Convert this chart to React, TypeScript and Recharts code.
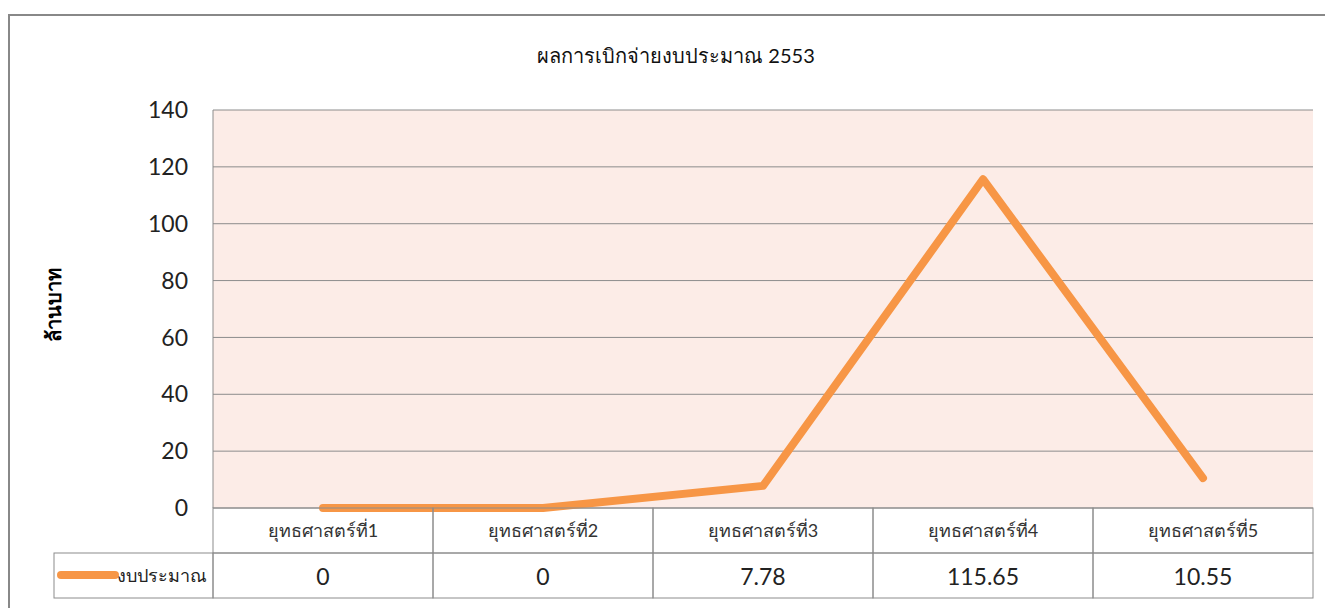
import React from "react";
import { LineChart, Line, XAxis, YAxis, CartesianGrid } from "recharts";

const categories = ["ยุทธศาสตร์ที่1", "ยุทธศาสตร์ที่2", "ยุทธศาสตร์ที่3", "ยุทธศาสตร์ที่4", "ยุทธศาสตร์ที่5"];
const budget = [0, 0, 7.78, 115.65, 10.55];
const yTicks = [0, 20, 40, 60, 80, 100, 120, 140];
const seriesName = "งบประมาณ";

const data = categories.map((name, i) => ({ name, value: budget[i] }));

const FONT = "Lato, 'Noto Sans', sans-serif";
const ORANGE = "#F79646";
const BORDER = "#8c8c8c";
const ROW = 45;
const HALF = 110;

// x-axis tick draws one column of the data table
const TableTick = ({ x, y, index }: any) => {
  return (
    <g>
      <rect x={x - HALF} y={y} width={HALF * 2} height={ROW} fill="none" stroke={BORDER} />
      <rect x={x - HALF} y={y + ROW} width={HALF * 2} height={ROW} fill="none" stroke={BORDER} />
      <text x={x} y={y + 22} textAnchor="middle" dominantBaseline="central" fontSize={18} fill="#333" fontFamily={FONT}>
        {categories[index]}
      </text>
      <text x={x} y={y + ROW + 23} textAnchor="middle" dominantBaseline="central" fontSize={23} fill="#222" fontFamily={FONT}>
        {String(budget[index])}
      </text>
      {index === 0 && (
        <g>
          <rect x={x - HALF - 159} y={y + ROW} width={159} height={ROW} fill="none" stroke={BORDER} />
          <line x1={x - HALF - 152} x2={x - HALF - 98} y1={y + ROW + 22} y2={y + ROW + 22} stroke={ORANGE} strokeWidth={8} strokeLinecap="round" />
          <text x={x - HALF - 96} y={y + ROW + 22} dominantBaseline="central" fontSize={18} fill="#222" fontFamily={FONT}>
            {seriesName}
          </text>
        </g>
      )}
    </g>
  );
};

const YTitle = ({ viewBox }: any) => {
  const cx = viewBox.x + 45;
  const cy = viewBox.y + viewBox.height / 2 - 4;
  return (
    <text x={cx} y={cy} transform={`rotate(-90 ${cx} ${cy})`} textAnchor="middle" dominantBaseline="central" fontSize={20} fontWeight="bold" fill="#000" fontFamily={FONT}>
      ล้านบาท
    </text>
  );
};

export default function App() {
  return (
    <div style={{ position: "relative", width: 1325, height: 600, fontFamily: FONT }}>
      <div style={{ position: "absolute", left: 0, top: 6, width: 1340, height: 600, borderLeft: "2px solid #888", borderTop: "2px solid #888" }} />
      <div style={{ position: "absolute", left: 0, top: 32, width: 1336, textAlign: "center", fontSize: 20, color: "#111" }}>
        ผลการเบิกจ่ายงบประมาณ 2553
      </div>
      <div style={{ position: "absolute", left: 0, top: 0 }}>
        <LineChart width={1325} height={600} data={data} margin={{ top: 102, right: 20, bottom: 10, left: 0 }}>
          <CartesianGrid vertical={false} stroke={BORDER} fill="#FCECE7" fillOpacity={1} />
          <XAxis
            dataKey="name"
            padding={{ left: HALF, right: HALF }}
            height={90}
            tickSize={0}
            tickMargin={0}
            axisLine={false}
            tickLine={false}
            interval={0}
            tick={<TableTick />}
          />
          <YAxis
            width={205}
            domain={[0, 140]}
            ticks={yTicks}
            interval={0}
            axisLine={{ stroke: BORDER }}
            tickLine={false}
            tickMargin={19}
            tick={{ fontSize: 23, fill: "#222", fontFamily: FONT }}
            label={<YTitle />}
          />
          <Line
            dataKey="value"
            stroke={ORANGE}
            strokeWidth={8}
            strokeLinecap="round"
            strokeLinejoin="round"
            dot={false}
            isAnimationActive={false}
          />
        </LineChart>
      </div>
    </div>
  );
}
